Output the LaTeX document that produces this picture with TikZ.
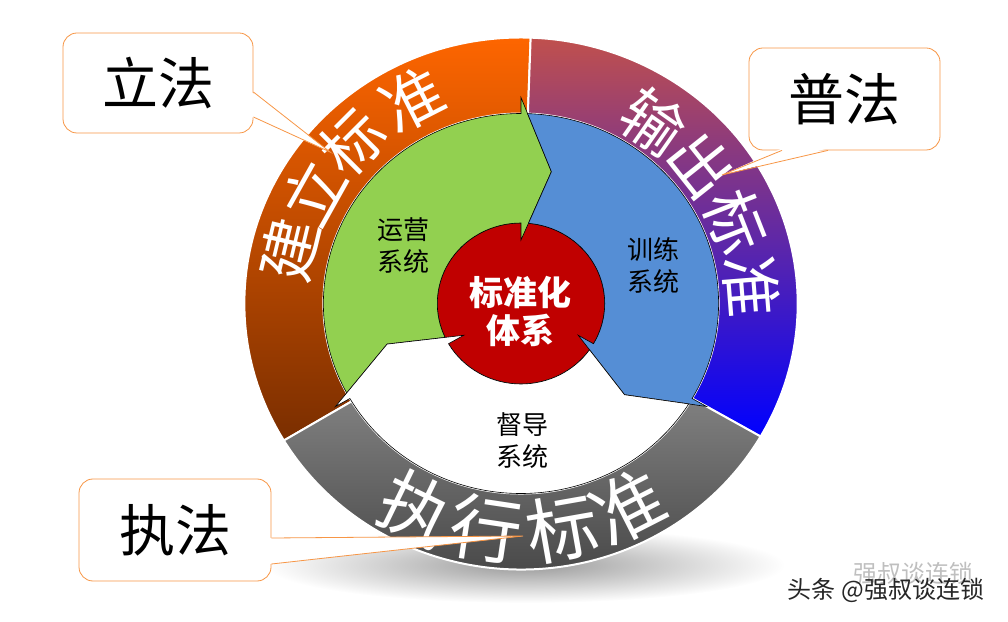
\documentclass[tikz,border=0pt]{standalone}
\usepackage{fontspec}
\setmainfont{Noto Sans CJK SC}
\definecolor{ringorange}{RGB}{255,102,0}
\definecolor{ringorangemid}{RGB}{226,90,0}
\definecolor{ringbrown}{RGB}{122,46,0}
\definecolor{ringrose}{RGB}{192,80,77}
\definecolor{ringpurple}{RGB}{155,63,192}
\definecolor{ringblue}{RGB}{0,0,255}
\definecolor{ringgray}{RGB}{128,128,128}
\definecolor{ringdark}{RGB}{62,62,62}
\definecolor{opsgreen}{RGB}{146,208,80}
\definecolor{trainblue}{RGB}{85,142,213}
\definecolor{corered}{RGB}{192,0,0}
\definecolor{calloutline}{RGB}{247,150,70}
\tikzset{
  sector/.style={draw=white,line width=2pt},
  cyclearrow/.style={draw=black,line width=0.6pt,line join=miter},
  ringchar/.style={text=white,inner sep=0pt,font=\fontsize{62}{62}\selectfont},
  bigchar/.style={ringchar,font=\fontsize{72}{72}\selectfont},
  syslabel/.style={align=center,inner sep=0pt,font=\fontsize{26}{32}\selectfont},
  corelabel/.style={align=center,inner sep=0pt,text=white,font=\bfseries\fontsize{34}{38}\selectfont},
  callout/.style={draw=calloutline,line width=0.8pt,fill=white,rounded corners=14pt,minimum width=190pt,minimum height=100pt,inner sep=0pt,font=\fontsize{56}{56}\selectfont},
  pointer/.style={draw=calloutline,line width=0.8pt,line join=miter}
}

\begin{document}
\begin{tikzpicture}[x=1pt,y=1pt]
  \useasboundingbox (0,0) rectangle (1008,621);
  % shadow under the ring
  \shade[inner color=black!40,outer color=white] (525,56) ellipse [x radius=260,y radius=38];
  \begin{scope}[shift={(521,317.5)},xscale=1.04]
    % outer ring
    \path[sector,top color=ringorange,middle color=ringorangemid,bottom color=ringbrown]
      (88:266) arc[start angle=88,end angle=211,radius=266] -- (211:190) arc[start angle=211,end angle=88,radius=190] -- cycle;
    \path[sector,top color=ringrose,middle color=ringpurple,bottom color=ringblue]
      (-30:266) arc[start angle=-30,end angle=88,radius=266] -- (88:190) arc[start angle=88,end angle=-30,radius=190] -- cycle;
    \path[sector,top color=ringgray,bottom color=ringdark]
      (211:266) arc[start angle=211,end angle=330,radius=266] -- (330:190) arc[start angle=330,end angle=211,radius=190] -- cycle;
    % centre
    \draw[fill=corered,line width=0.6pt] (0,0) circle[radius=80.5];
    % three cycle arrows
    \foreach \a/\col in {210/opsgreen,90/trainblue,-30/white}
      \draw[cyclearrow,fill=\col] ({\a-1.9}:190) arc[start angle=\a-1.9,end angle=\a-120,radius=190]
        -- ({\a-120}:206) -- ({\a-132.5}:135) -- ({\a-120}:63.5) -- ({\a-120}:80.5)
        arc[start angle=\a-120,end angle=\a-5.1,radius=80.5] -- ({\a-12.5}:135) -- cycle;
    % ring texts
    \foreach \ch/\ang [count=\i] in {建/166.5,立/150.8,标/135,准/117}
      \node[ringchar,rotate=\ang-90] (build\i) at (\ang:229) {\ch};
    \foreach \ch/\ang [count=\i] in {输/55,出/38.5,标/21.5,准/4.5}
      \node[ringchar,rotate=\ang-90] (output\i) at (\ang:222) {\ch};
    \foreach \ch/\ang [count=\i] in {执/244,行/261.5,标/280,准/297}
      \node[bigchar,rotate=\ang+90] (exec\i) at (\ang:228) {\ch};
  \end{scope}
  \node[syslabel] (ops) at (403,375) {运营\\系统};
  \node[syslabel] (train) at (653,355) {训练\\系统};
  \node[syslabel] (audit) at (522,180) {督导\\系统};
  \node[corelabel] (core) at (520,309.5) {标准化\\体系};
  % callouts
  \node[callout] (lifa) at (158,538) {立法};
  \coordinate (lifa tip) at (330,469);
  \fill[white] ([xshift=-2pt,yshift=-9pt]lifa.east) -- (lifa tip) -- ([xshift=-2pt,yshift=-34pt]lifa.east) -- cycle;
  \draw[pointer] ([yshift=-9pt]lifa.east) -- (lifa tip) -- ([yshift=-34pt]lifa.east);
  \node[callout,minimum width=191pt,minimum height=102pt] (pufa) at (844.5,522) {普法};
  \coordinate (pufa tip) at (722,446);
  \fill[white] ([xshift=-62.5pt,yshift=2pt]pufa.south) -- (pufa tip) -- ([xshift=-16.5pt,yshift=2pt]pufa.south) -- cycle;
  \draw[pointer] ([xshift=-62.5pt]pufa.south) -- (pufa tip) -- ([xshift=-16.5pt]pufa.south);
  \node[callout,minimum width=192pt,minimum height=102pt] (zhifa) at (175,91) {执法};
  \coordinate (zhifa tip) at (523,85);
  \fill[white] ([xshift=-2pt,yshift=-8pt]zhifa.east) -- (zhifa tip) -- ([xshift=-2pt,yshift=-34pt]zhifa.east) -- cycle;
  \draw[pointer] ([yshift=-8pt]zhifa.east) -- (zhifa tip) -- ([yshift=-34pt]zhifa.east);
  % watermark
  \node[font=\fontsize{24}{24}\selectfont,text=black!25] (ghost) at (913,48) {强叔谈连锁};
  \node[font=\fontsize{24}{24}\selectfont,text=black!85] (mark) at (886,31) {头条 @强叔谈连锁};
\end{tikzpicture}
\end{document}
